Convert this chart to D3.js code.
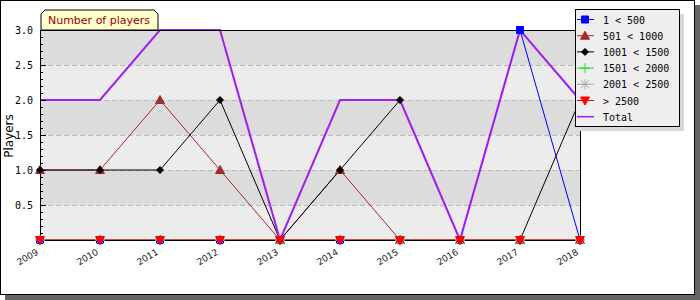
<!DOCTYPE html>
<html>
<head>
<meta charset="utf-8">
<script src="https://cdn.jsdelivr.net/npm/d3@7"></script>
<style>
  body { margin: 0; background: #fff; }
  svg text { font-family: "DejaVu Sans", sans-serif; }
  .mono { font-family: "DejaVu Sans Mono", monospace; font-size: 10px; }
</style>
</head>
<body>
<svg id="chart" width="700" height="300"></svg>
<script>
// values
var years = [2009, 2010, 2011, 2012, 2013, 2014, 2015, 2016, 2017, 2018];
var s500 = [0, 0, 0, 0, 0, 0, 0, 0, 3, 0];
var s1000 = [1, 1, 2, 1, 0, 1, 0, 0, 0, 0];
var s1500 = [1, 1, 1, 2, 0, 1, 2, 0, 0, 2];
var s2000 = [0, 0, 0, 0, 0, 0, 0, 0, 0, 0];
var s2500 = [0, 0, 0, 0, 0, 0, 0, 0, 0, 0];
var sOver = [0, 0, 0, 0, 0, 0, 0, 0, 0, 0];
var total = [2, 2, 3, 3, 0, 2, 2, 0, 3, 2];
var yTicks = [0.5, 1.0, 1.5, 2.0, 2.5, 3.0];

var series = [
  { name: '1 < 500', values: s500, color: '#0000ff', fill: '#0000ff', sym: 'square' },
  { name: '501 < 1000', values: s1000, color: '#a52a2a', fill: '#a52a2a', sym: 'triangle' },
  { name: '1001 < 1500', values: s1500, color: '#000000', fill: '#000000', sym: 'diamond' },
  { name: '1501 < 2000', values: s2000, color: '#22dd22', fill: 'none', sym: 'plus' },
  { name: '2001 < 2500', values: s2500, color: '#aaaaaa', fill: 'none', sym: 'star' },
  { name: '> 2500', values: sOver, color: '#ff0000', fill: '#ff0000', sym: 'down' },
  { name: 'Total', values: total, color: '#a020f0', fill: 'none', sym: null }
];

var svg = d3.select('#chart');

// outer frame with shadow
svg.append('rect').attr('x', 5).attr('y', 5).attr('width', 695).attr('height', 295).attr('fill', '#666');
svg.append('rect').attr('x', 0.5).attr('y', 0.5).attr('width', 694).attr('height', 294)
  .attr('fill', '#fff').attr('stroke', '#000');

var pLeft = 40, pRight = 580, pTop = 30, pBottom = 240;

var x = d3.scaleLinear().domain([2009, 2018]).range([pLeft, pRight]);
var y = d3.scaleLinear().domain([0, 3]).range([pBottom, pTop]);

// bands
var bands = d3.range(0, 3, 0.5);
svg.selectAll('rect.band')
  .data(bands)
  .enter()
  .append('rect')
  .attr('class', 'band')
  .attr('x', pLeft)
  .attr('y', function(d) { return y(d + 0.5); })
  .attr('width', pRight - pLeft)
  .attr('height', function(d) { return y(d) - y(d + 0.5); })
  .attr('fill', function(d, i) { return i % 2 ? '#dcdcdc' : '#ececec'; });

// dashed grid
svg.selectAll('line.grid')
  .data(yTicks.slice(0, -1))
  .enter()
  .append('line')
  .attr('x1', pLeft).attr('x2', pRight)
  .attr('y1', function(d) { return Math.round(y(d)) + 0.5; })
  .attr('y2', function(d) { return Math.round(y(d)) + 0.5; })
  .attr('stroke', '#bbbbbb')
  .attr('stroke-dasharray', '5,3');

// lines
var line = d3.line()
  .x(function(d, i) { return x(years[i]); })
  .y(function(d) { return y(d); });

svg.selectAll('path.series')
  .data(series)
  .enter()
  .append('path')
  .attr('d', function(s) { return line(s.values); })
  .attr('fill', 'none')
  .attr('stroke', function(s) { return s.color; })
  .attr('stroke-width', function(s) { return s.sym ? 1 : 2; });

// plot frame
svg.append('rect').attr('x', pLeft + 0.5).attr('y', pTop + 0.5)
  .attr('width', pRight - pLeft).attr('height', pBottom - pTop)
  .attr('fill', 'none').attr('stroke', '#000');

// y axis ticks (inside)
var minor = d3.range(1, 30).map(function(i) { return i / 10; });
svg.selectAll('line.minor')
  .data(minor)
  .enter()
  .append('line')
  .attr('x1', pLeft).attr('x2', function(d) { return Math.abs(d * 2 - Math.round(d * 2)) < 0.01 ? pLeft + 6 : pLeft + 3; })
  .attr('y1', function(d) { return Math.round(y(d)) + 0.5; })
  .attr('y2', function(d) { return Math.round(y(d)) + 0.5; })
  .attr('stroke', '#000');

svg.selectAll('text.ytick')
  .data(yTicks)
  .enter()
  .append('text')
  .attr('class', 'mono')
  .attr('x', 33)
  .attr('y', function(d) { return y(d) + 4; })
  .attr('text-anchor', 'end')
  .attr('fill', '#000')
  .text(function(d) { return d3.format('.1f')(d); });

// x ticks and labels
svg.selectAll('line.xtick')
  .data(years)
  .enter()
  .append('line')
  .attr('x1', function(d) { return Math.round(x(d)) + 0.5; })
  .attr('x2', function(d) { return Math.round(x(d)) + 0.5; })
  .attr('y1', pBottom - 5).attr('y2', pBottom + 3)
  .attr('stroke', '#000');

svg.selectAll('text.xtick')
  .data(years)
  .enter()
  .append('text')
  .attr('transform', function(d) { return 'translate(' + (x(d) - 1) + ',' + 254 + ') rotate(-30)'; })
  .attr('text-anchor', 'end')
  .attr('font-size', '9px')
  .attr('fill', '#222')
  .text(function(d) { return d; });

// axis title
svg.append('text')
  .attr('transform', 'translate(13,136) rotate(-90)')
  .attr('text-anchor', 'middle')
  .attr('font-size', '12px')
  .attr('fill', '#000')
  .text('Players');

function symbolPath(sym) {
  if (sym === 'square') return 'M-3.5,-3.5H3.5V3.5H-3.5Z';
  if (sym === 'triangle') return 'M0,-4.5L4.5,3.5H-4.5Z';
  if (sym === 'diamond') return 'M0,-3.5L3.5,0L0,3.5L-3.5,0Z';
  if (sym === 'plus') return 'M-5,0H5M0,-5V5';
  if (sym === 'star') return 'M-5,0H5M0,-5V5M-4,-4L4,4M-4,4L4,-4';
  if (sym === 'down') return 'M-4.5,-3.5H4.5L0,4.5Z';
  return '';
}

// markers
series.filter(function(s) { return s.sym; }).forEach(function(s) {
  svg.selectAll(null)
    .data(s.values)
    .enter()
    .append('path')
    .attr('transform', function(d, i) { return 'translate(' + x(years[i]) + ',' + y(d) + ')'; })
    .attr('d', symbolPath(s.sym))
    .attr('fill', s.fill)
    .attr('stroke', s.color);
});

// title tab
var tab = 'M41,30V14L45,10H154L158,14V30Z';
svg.append('path').attr('d', tab).attr('fill', '#ffffcc').attr('stroke', '#000').attr('stroke-width', 1);
svg.append('text')
  .attr('x', 99).attr('y', 24)
  .attr('text-anchor', 'middle')
  .attr('font-size', '11px')
  .attr('fill', '#990000')
  .text('Number of players');

// legend
var lx = 575, ly = 9, lw = 104, lh = 117;
svg.append('rect').attr('x', lx + 5).attr('y', ly + 5).attr('width', lw).attr('height', lh).attr('fill', '#d8d8d8');
svg.append('rect').attr('x', lx + 0.5).attr('y', ly + 0.5).attr('width', lw).attr('height', lh)
  .attr('fill', '#eeeeee').attr('stroke', '#000');

var item = svg.selectAll('g.leg')
  .data(series)
  .enter()
  .append('g')
  .attr('transform', function(d, i) { return 'translate(' + (lx + 10) + ',' + (ly + 10.5 + i * 16.2) + ')'; });

item.append('line')
  .attr('x1', -8).attr('x2', 9)
  .attr('stroke', function(s) { return s.color; })
  .attr('stroke-width', function(s) { return s.sym ? 1 : 1.5; });

item.append('path')
  .attr('d', function(s) { return symbolPath(s.sym); })
  .attr('fill', function(s) { return s.fill; })
  .attr('stroke', function(s) { return s.color; });

item.append('text')
  .attr('class', 'mono')
  .attr('x', 18)
  .attr('y', 4)
  .attr('fill', '#000')
  .text(function(s) { return s.name; });
</script>
</body>
</html>
